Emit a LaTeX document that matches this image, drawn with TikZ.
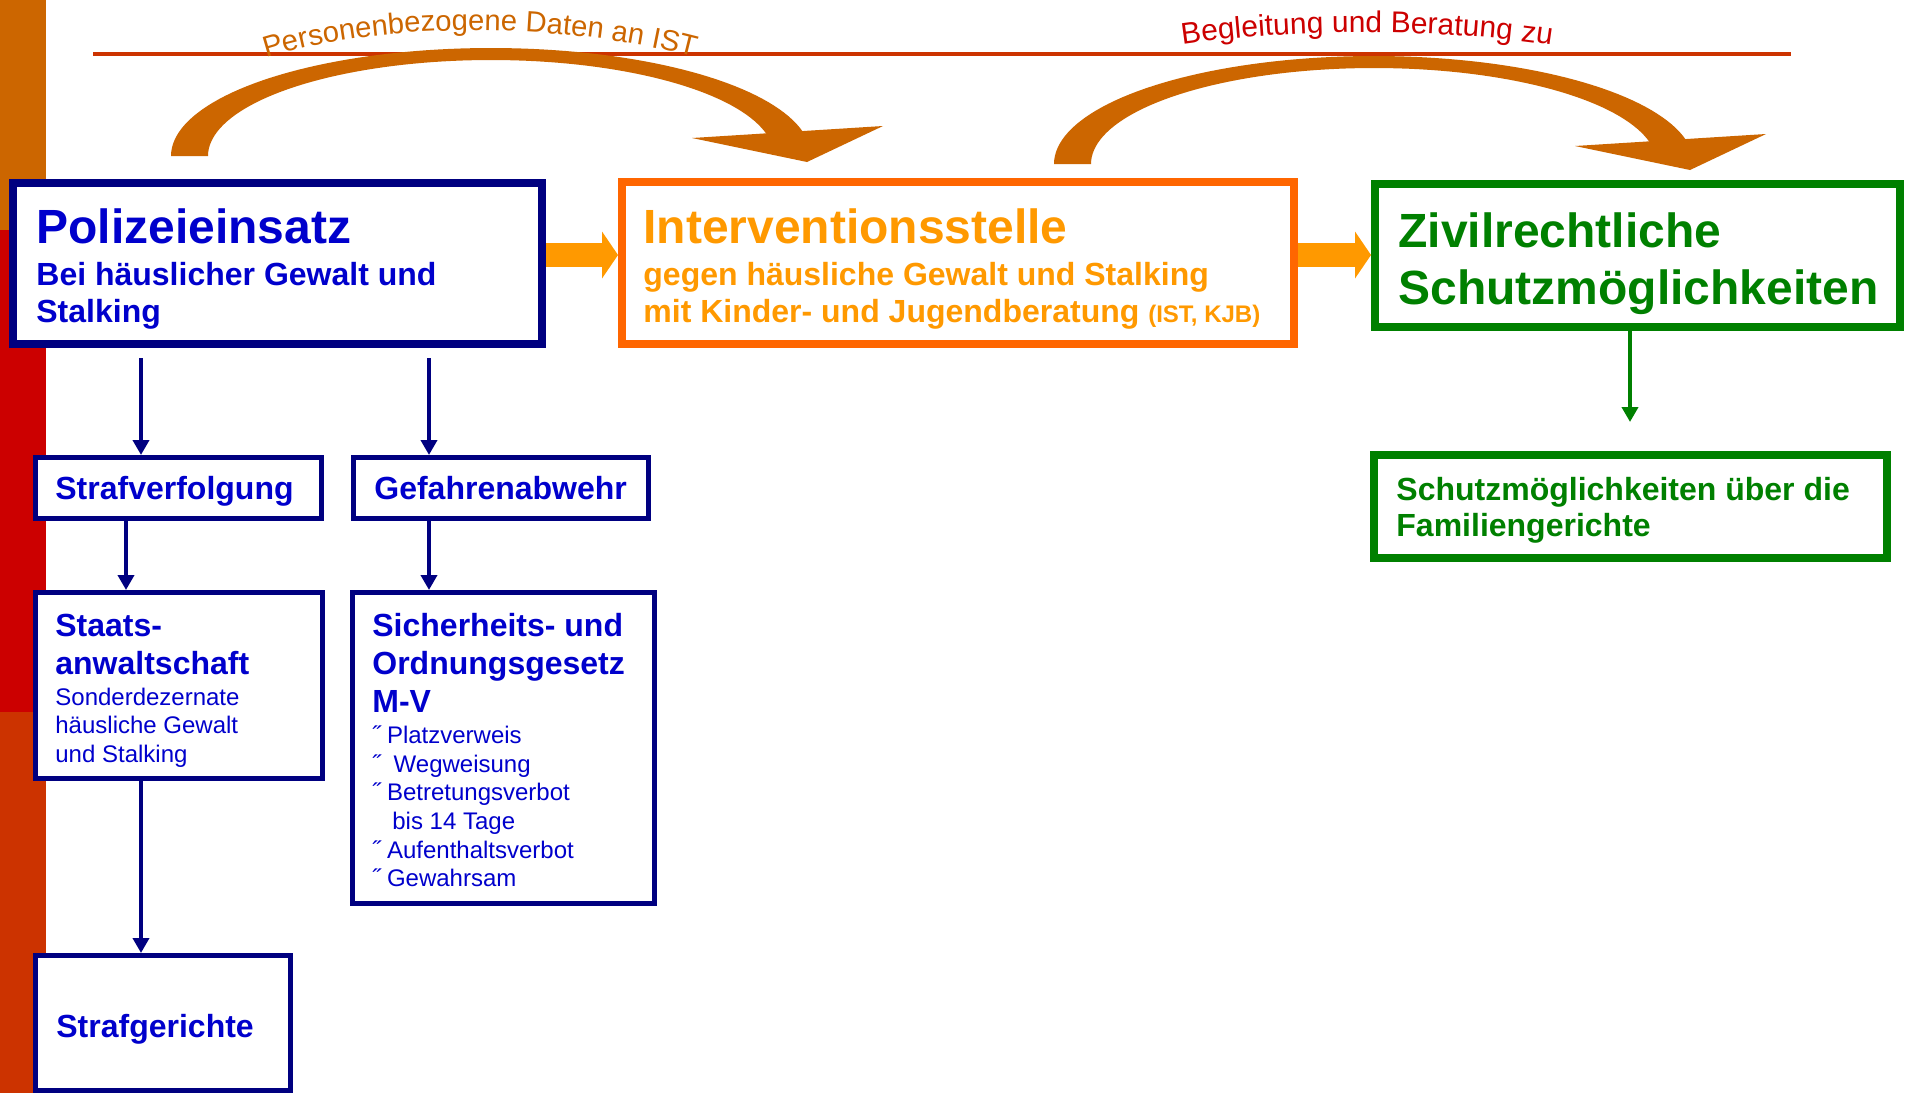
\documentclass[tikz,border=0pt]{standalone}
\usepackage{fontspec}
\setmainfont{Liberation Sans}
\usetikzlibrary{arrows.meta,decorations.text,calc}
\definecolor{navyb}{HTML}{000080}
\definecolor{bluet}{HTML}{0000CC}
\definecolor{orb}{HTML}{FF6600}
\definecolor{ort}{HTML}{FF9900}
\definecolor{grn}{HTML}{008000}
\definecolor{brn}{HTML}{CC6600}
\definecolor{redt}{HTML}{CC0000}
\definecolor{rorg}{HTML}{CC3300}
\tikzset{
  smallbox/.style={draw=navyb, line width=2.5pt, fill=white, rectangle, inner sep=0pt, anchor=north west},
  bigbox/.style={line width=4pt, fill=white, rectangle, inner sep=0pt, anchor=north west},
  lbl/.style={inner sep=0pt, anchor=base west},
  ttl/.style={lbl, font=\fontsize{24}{28}\selectfont\bfseries},
  sub/.style={lbl, font=\fontsize{16}{19}\selectfont\bfseries},
  sml/.style={lbl, font=\fontsize{12}{14}\selectfont},
  navyarr/.style={draw=navyb, line width=2pt, -{Triangle[length=7.5pt,width=8pt]}},
  grnarr/.style={draw=grn, line width=2pt, -{Triangle[length=7.5pt,width=8pt]}},
  fatarr/.style={draw=ort, line width=12pt, -{Triangle[length=8pt,width=23.5pt,line width=0pt]}},
  bandfill/.style={fill=brn}
}
\begin{document}
\begin{tikzpicture}[x=0.5pt,y=-0.5pt]
\useasboundingbox (0,0) rectangle (1906,1093);
\fill[white] (0,0) rectangle (1906,1093);
% left bar
\fill[brn] (0,0) rectangle (46,230);
\fill[redt] (0,230) rectangle (46,712);
\fill[rorg] (0,712) rectangle (46,1093);
% horizontal line
\draw[rorg, line width=1.7pt] (93,54) -- (1791,54);
% curved arrow 1
\fill[bandfill] plot[domain=180:13, samples=80, variable=\t] ({491+320*cos(\t)},{156-108*sin(\t)})
  -- plot[domain=13:180, samples=80, variable=\t] ({491+283*cos(\t)},{156-96*sin(\t)}) -- cycle;
\fill[bandfill] (692,138) -- (883,126) -- (807,162) -- cycle;
% curved arrow 2
\fill[bandfill] plot[domain=180:13, samples=80, variable=\t] ({1374+320*cos(\t)},{164-108*sin(\t)})
  -- plot[domain=13:180, samples=80, variable=\t] ({1374+283*cos(\t)},{164-96*sin(\t)}) -- cycle;
\fill[bandfill] (1575,146) -- (1766,134) -- (1690,170) -- cycle;
% curved texts
\path[decorate, decoration={text along path, text align=center,
  text={|\fontsize{14.6}{18}\selectfont\color{brn}|Personenbezogene Daten an IST}}]
  (263,59) .. controls (380,21) and (560,21) .. (698,58);
\path[decorate, decoration={text along path, text align=center,
  text={|\fontsize{15}{18}\selectfont\color{redt}|Begleitung und Beratung zu}}]
  (1178,45) .. controls (1290,28) and (1440,28) .. (1556,46);
% main boxes
\node[bigbox, draw=navyb, minimum width=264.5pt, minimum height=80.5pt] (pol) at (9,179) {};
\node[bigbox, draw=orb, minimum width=336pt, minimum height=81pt] (iv) at (618,178) {};
\node[bigbox, draw=grn, minimum width=262.5pt, minimum height=71.5pt] (zi) at (1371,180) {};
\node[bigbox, draw=grn, minimum width=256.5pt, minimum height=51.5pt] (fam) at (1370,451) {};
% small boxes
\node[smallbox, minimum width=143pt, minimum height=30.5pt] (sv) at (33,455) {};
\node[smallbox, minimum width=147.5pt, minimum height=30.5pt] (gw) at (351,455) {};
\node[smallbox, minimum width=143.5pt, minimum height=93pt] (sa) at (33,590) {};
\node[smallbox, minimum width=151pt, minimum height=155.5pt] (sh) at (350,590) {};
\node[smallbox, minimum width=127.5pt, minimum height=67.5pt] (sg) at (33,953) {};
% texts
\node[ttl, text=bluet] (pol1) at (36,243) {Polizeieinsatz};
\node[sub, text=bluet] (pol2) at (36,285) {Bei häuslicher Gewalt und};
\node[sub, text=bluet] (pol3) at (36,322) {Stalking};
\node[ttl, text=ort] (iv1) at (643,243) {Interventionsstelle};
\node[sub, text=ort] (iv2) at (643,285) {gegen häusliche Gewalt und Stalking};
\node[sub, text=ort] (iv3) at (643,322) {mit Kinder- und Jugendberatung {\fontsize{12}{14}\selectfont(IST, KJB)}};
\node[ttl, text=grn] (zi1) at (1398,247) {Zivilrechtliche};
\node[ttl, text=grn] (zi2) at (1398,304) {Schutzmöglichkeiten};
\node[sub, text=grn] (fam1) at (1396,500) {Schutzmöglichkeiten über die};
\node[sub, text=grn] (fam2) at (1396,536) {Familiengerichte};
\node[sub, text=bluet] (sv1) at (55,499) {Strafverfolgung};
\node[sub, text=bluet] (gw1) at (374,499) {Gefahrenabwehr};
\node[sub, text=bluet] (sa1) at (55,636) {Staats-};
\node[sub, text=bluet] (sa2) at (55,674) {anwaltschaft};
\node[sml, text=bluet] (sa3) at (55,705) {Sonderdezernate};
\node[sml, text=bluet] (sa4) at (55,733) {häusliche Gewalt};
\node[sml, text=bluet] (sa5) at (55,762) {und Stalking};
\node[sub, text=bluet] (sh1) at (372,636) {Sicherheits- und};
\node[sub, text=bluet] (sh2) at (372,674) {Ordnungsgesetz};
\node[sub, text=bluet] (sh3) at (372,712) {M-V};
\node[sml, text=bluet] (sh4) at (372,743) {˝ Platzverweis};
\node[sml, text=bluet] (sh5) at (372,772) {˝\ \ Wegweisung};
\node[sml, text=bluet] (sh6) at (372,800) {˝ Betretungsverbot};
\node[sml, text=bluet] (sh7) at (392,829) {bis 14 Tage};
\node[sml, text=bluet] (sh8) at (372,858) {˝ Aufenthaltsverbot};
\node[sml, text=bluet] (sh9) at (372,886) {˝ Gewahrsam};
\node[sub, text=bluet] (sg1) at (56,1037) {Strafgerichte};
% connectors
\coordinate (xA) at (141,358);
\coordinate (xB) at (429,358);
\coordinate (xC) at (126,0);
\coordinate (gT) at (1630,422);
\coordinate (fa) at (0,255);
\draw[fatarr] (pol.east |- fa) -- (iv.west |- fa);
\draw[fatarr] (iv.east |- fa) -- (zi.west |- fa);
\draw[navyarr] (xA) -- (xA |- sv.north);
\draw[navyarr] (xB) -- (xB |- gw.north);
\draw[navyarr] (sv.south -| xC) -- (sa.north -| xC);
\draw[navyarr] (gw.south -| xB) -- (sh.north -| xB);
\draw[navyarr] (sa.south -| xA) -- (sg.north -| xA);
\draw[grnarr] (zi.south -| gT) -- (gT);
\end{tikzpicture}
\end{document}
